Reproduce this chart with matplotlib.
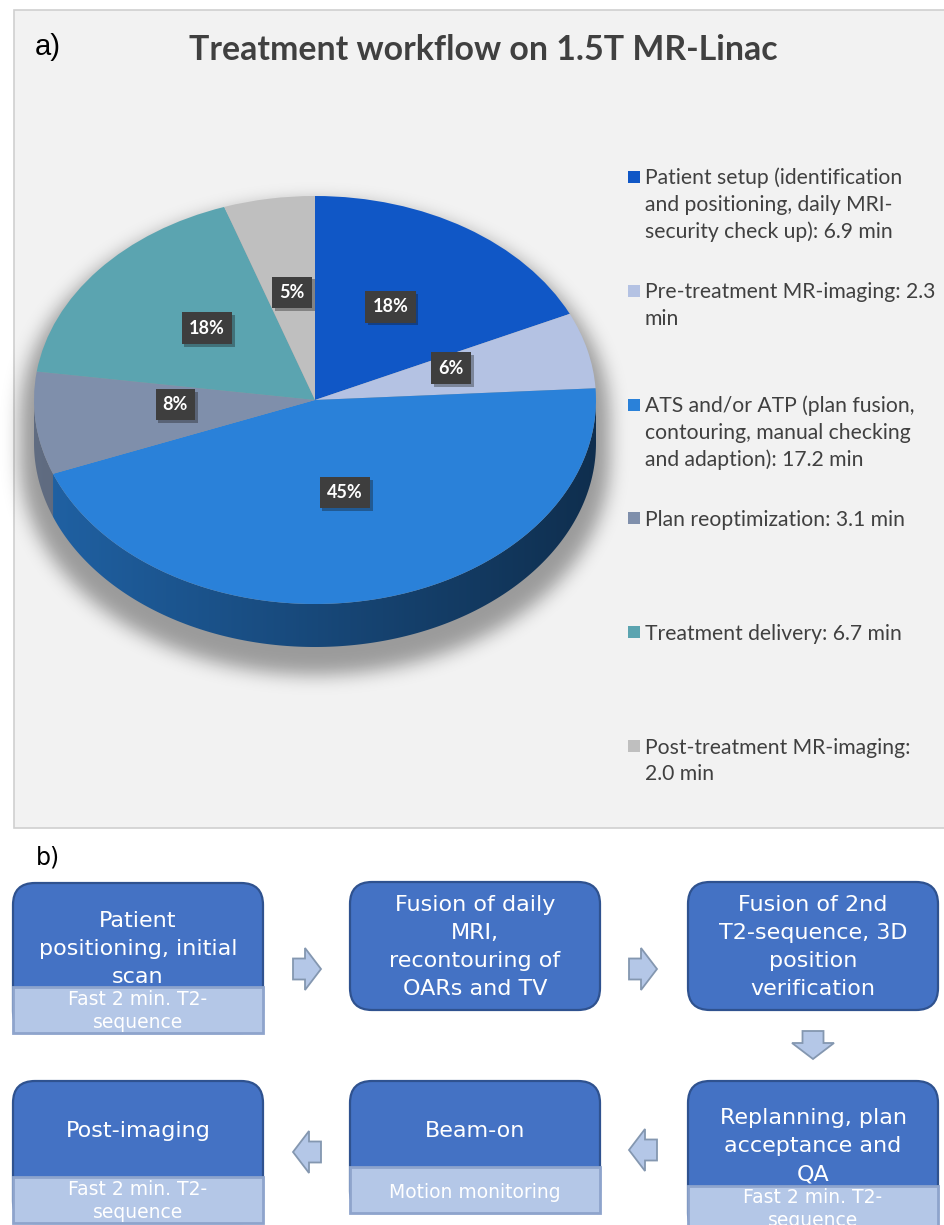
import textwrap
import numpy as np
import matplotlib
matplotlib.use("Agg")
import matplotlib.pyplot as plt
from matplotlib.patches import FancyBboxPatch, Rectangle, Polygon
import matplotlib.patheffects as pe
from matplotlib.colors import to_rgb

# ---------------- data ----------------
categories = [
    "Patient setup (identification and positioning, daily MRI-security check up)",
    "Pre-treatment MR-imaging",
    "ATS and/or ATP (plan fusion, contouring, manual checking and adaption)",
    "Plan reoptimization",
    "Treatment delivery",
    "Post-treatment MR-imaging",
]
minutes = [6.9, 2.3, 17.2, 3.1, 6.7, 2.0]
slice_colors = ["#1057C6", "#B4C2E3", "#2A81D9", "#7F8FAB", "#5BA4B0", "#BFBFBF"]
title = "Treatment workflow on 1.5T MR-Linac"

flow_steps = [
    "Patient\npositioning, initial\nscan",
    "Fusion of daily\nMRI,\nrecontouring of\nOARs and TV",
    "Fusion of 2nd\nT2-sequence, 3D\nposition\nverification",
    "Replanning, plan\nacceptance and\nQA",
    "Beam-on",
    "Post-imaging",
]
flow_sub = [
    "Fast 2 min. T2-\nsequence",
    None,
    None,
    "Fast 2 min. T2-\nsequence",
    "Motion monitoring",
    "Fast 2 min. T2-\nsequence",
]

# ---------------- figure ----------------
W, H = 945, 1225
fig = plt.figure(figsize=(W / 100, H / 100), dpi=100)
fig.patch.set_facecolor("white")
bg = fig.add_axes([0, 0, 1, 1])
bg.set_xlim(0, W)
bg.set_ylim(H, 0)
bg.axis("off")

# panel a frame
bg.add_patch(Rectangle((14, 10), 960, 818, facecolor="#F2F2F2", edgecolor="#D0D0D0", lw=1.2, zorder=0))
bg.text(35, 47, "a)", fontsize=21, family="Liberation Sans", color="black", va="center", ha="left")
bg.text(483, 60, title, fontsize=24.4, family="Lato", fontweight="bold", color="#404040",
        ha="center", va="baseline")

# ---------------- 3D-like pie ----------------
cx, cy, a, b, depth = 315, 400, 281, 204, 43
mx, mt, mb = 45, 20, 50
ax_l, ax_t = cx - a - mx, cy - b - mt
ax_w, ax_h = 2 * (a + mx), 2 * b + mt + depth + mb
ax = fig.add_axes([ax_l / W, 1 - (ax_t + ax_h) / H, ax_w / W, ax_h / H])
x0, x1 = -(a + mx) / a, (a + mx) / a
y0, y1 = -(b + depth + mb) / b, (b + mt) / b
d = depth / b

# soft shadow
nx, ny = int(ax_w), int(ax_h)
X, Y = np.meshgrid(np.linspace(x0, x1, nx), np.linspace(y1, y0, ny))
s = 1.05
xx = X / s
yy = (Y + 16 / b) / s
mask = ((xx ** 2 + yy ** 2 <= 1) | (xx ** 2 + (yy + d) ** 2 <= 1) |
        ((np.abs(xx) <= 1) & (yy <= 0) & (yy >= -d))).astype(float)
sig = 9
kx = np.arange(-3 * sig, 3 * sig + 1)
kern = np.exp(-kx ** 2 / (2 * sig ** 2))
kern /= kern.sum()
blur = np.apply_along_axis(lambda r: np.convolve(r, kern, mode="same"), 1, mask)
blur = np.apply_along_axis(lambda c: np.convolve(c, kern, mode="same"), 0, blur)
shadow = np.zeros((ny, nx, 4))
shadow[..., 3] = blur * 0.36
ax.imshow(shadow, extent=[x0, x1, y0, y1], aspect="auto", zorder=0.2, interpolation="bilinear")

# side walls (front half)
fr = np.array(minutes) / np.sum(minutes)
bounds = 90 - 360 * np.concatenate([[0], np.cumsum(fr)])
gx = np.linspace(-1, 1, 300)
fac = 0.76 - 0.40 * (gx + 1) / 2
for i in range(len(minutes)):
    lo, hi = bounds[i + 1], bounds[i]
    for k in (-1, 0, 1):
        a0, a1 = max(lo, -180 + 360 * k), min(hi, 360 * k)
        if a1 - a0 <= 0.01:
            continue
        th = np.radians(np.linspace(a0, a1, 200))
        top = np.column_stack([np.cos(th), np.sin(th)])
        bot = np.column_stack([np.cos(th[::-1]), np.sin(th[::-1]) - d])
        poly = Polygon(np.vstack([top, bot]), closed=True, transform=ax.transData,
                       facecolor="none", edgecolor="none")
        ax.add_patch(poly)
        base = np.array(to_rgb(slice_colors[i]))
        grad = np.clip(base[None, None, :] * fac[None, :, None], 0, 1)
        im = ax.imshow(grad, extent=[-1, 1, -1 - d - 0.02, 0.02], aspect="auto",
                       zorder=0.8, interpolation="bilinear")
        im.set_clip_path(poly)

wedges, _, autotexts = ax.pie(
    minutes, colors=slice_colors, startangle=90, counterclock=False,
    radius=1, center=(0, 0), autopct=lambda p: f"{p:.0f}%", pctdistance=0.5,
    wedgeprops=dict(linewidth=0),
    textprops=dict(color="white", fontsize=13, fontweight="bold", family="Lato"),
)
for t in autotexts:
    t.set_y(t.get_position()[1] + 7 / b)   # perspective lift of label anchor
    t.set_bbox(dict(boxstyle="square,pad=0.4", facecolor="#3E3E3E", edgecolor="none"))
    t.get_bbox_patch().set_path_effects([pe.SimplePatchShadow(offset=(2, -2), alpha=0.35), pe.Normal()])
ax.set_aspect("auto")
ax.set_xlim(x0, x1)
ax.set_ylim(y0, y1)
ax.axis("off")

# legend (manual, evenly distributed like the source chart)
leg_y0, leg_step, line_step = 177, 113.8, 26.8
for i, (name, v) in enumerate(zip(categories, minutes)):
    y = leg_y0 + i * leg_step
    bg.add_patch(Rectangle((628, y - 6), 12, 12, facecolor=slice_colors[i], edgecolor="none"))
    lines = textwrap.wrap(f"{name}: {v:.1f} min", width=29)
    for j, line in enumerate(lines):
        bg.text(645, y + 7.5 + j * line_step, line, fontsize=15.2, family="Lato",
                color="#404040", ha="left", va="baseline")

# ---------------- panel b: flow chart ----------------
bg.text(36, 858, "b)", fontsize=17, family="DejaVu Sans", color="black", va="center", ha="left")

col_x = [13, 350, 688]
box_w = 250
grid = [(0, 0), (0, 1), (0, 2), (1, 2), (1, 1), (1, 0)]
main_top = [883, 882, 882, 1081, 1081, 1081]
main_bot = [987, 1010, 1010, 1186, 1167, 1177]
sub_bot = [1033, None, None, 1235, 1213, 1223]
text_cy = [949, 947, 947, 1146, 1131, 1131]
sub_cy = [1011, None, None, 1209, 1192, 1201]

main_fc, main_ec = "#4472C4", "#2F528F"
sub_fc, sub_ec = "#B4C7E7", "#8EA4CC"
for i, txt in enumerate(flow_steps):
    r, c = grid[i]
    x = col_x[c]
    top = main_top[i]
    bottom = sub_bot[i] if flow_sub[i] else main_bot[i]
    bg.add_patch(FancyBboxPatch((x, top), box_w, bottom - top,
                                boxstyle="round,pad=0,rounding_size=22",
                                facecolor=main_fc, edgecolor=main_ec, lw=1.6, zorder=2))
    if flow_sub[i]:
        bg.add_patch(Rectangle((x, main_bot[i]), box_w, sub_bot[i] - main_bot[i],
                               facecolor=sub_fc, edgecolor=sub_ec, lw=2, zorder=3))
        bg.text(x + box_w / 2, sub_cy[i], flow_sub[i], fontsize=13.5, family="DejaVu Sans",
                color="white", ha="center", va="center", linespacing=1.3, zorder=5)
    bg.text(x + box_w / 2, text_cy[i], txt, fontsize=16, family="DejaVu Sans",
            color="white", ha="center", va="center", linespacing=1.52, zorder=4)


def block_arrow(xc, yc, direction):
    L, sl, sh, hh = 28, 12, 10.5, 21
    pts = np.array([[-L / 2, -sh], [-L / 2 + sl, -sh], [-L / 2 + sl, -hh], [L / 2, 0],
                    [-L / 2 + sl, hh], [-L / 2 + sl, sh], [-L / 2, sh]])
    ang = {"right": 0, "down": 90, "left": 180}[direction]
    rad = np.radians(ang)
    R = np.array([[np.cos(rad), -np.sin(rad)], [np.sin(rad), np.cos(rad)]])
    pts = pts @ R.T + np.array([xc, yc])
    bg.add_patch(Polygon(pts, closed=True, facecolor="#B4C7E7", edgecolor="#8497B0",
                         lw=1.3, zorder=2))


block_arrow(307, 969, "right")
block_arrow(643, 969, "right")
block_arrow(813, 1045, "down")
block_arrow(643, 1150, "left")
block_arrow(307, 1152, "left")

fig.savefig("out.png", dpi=100, facecolor="white")
